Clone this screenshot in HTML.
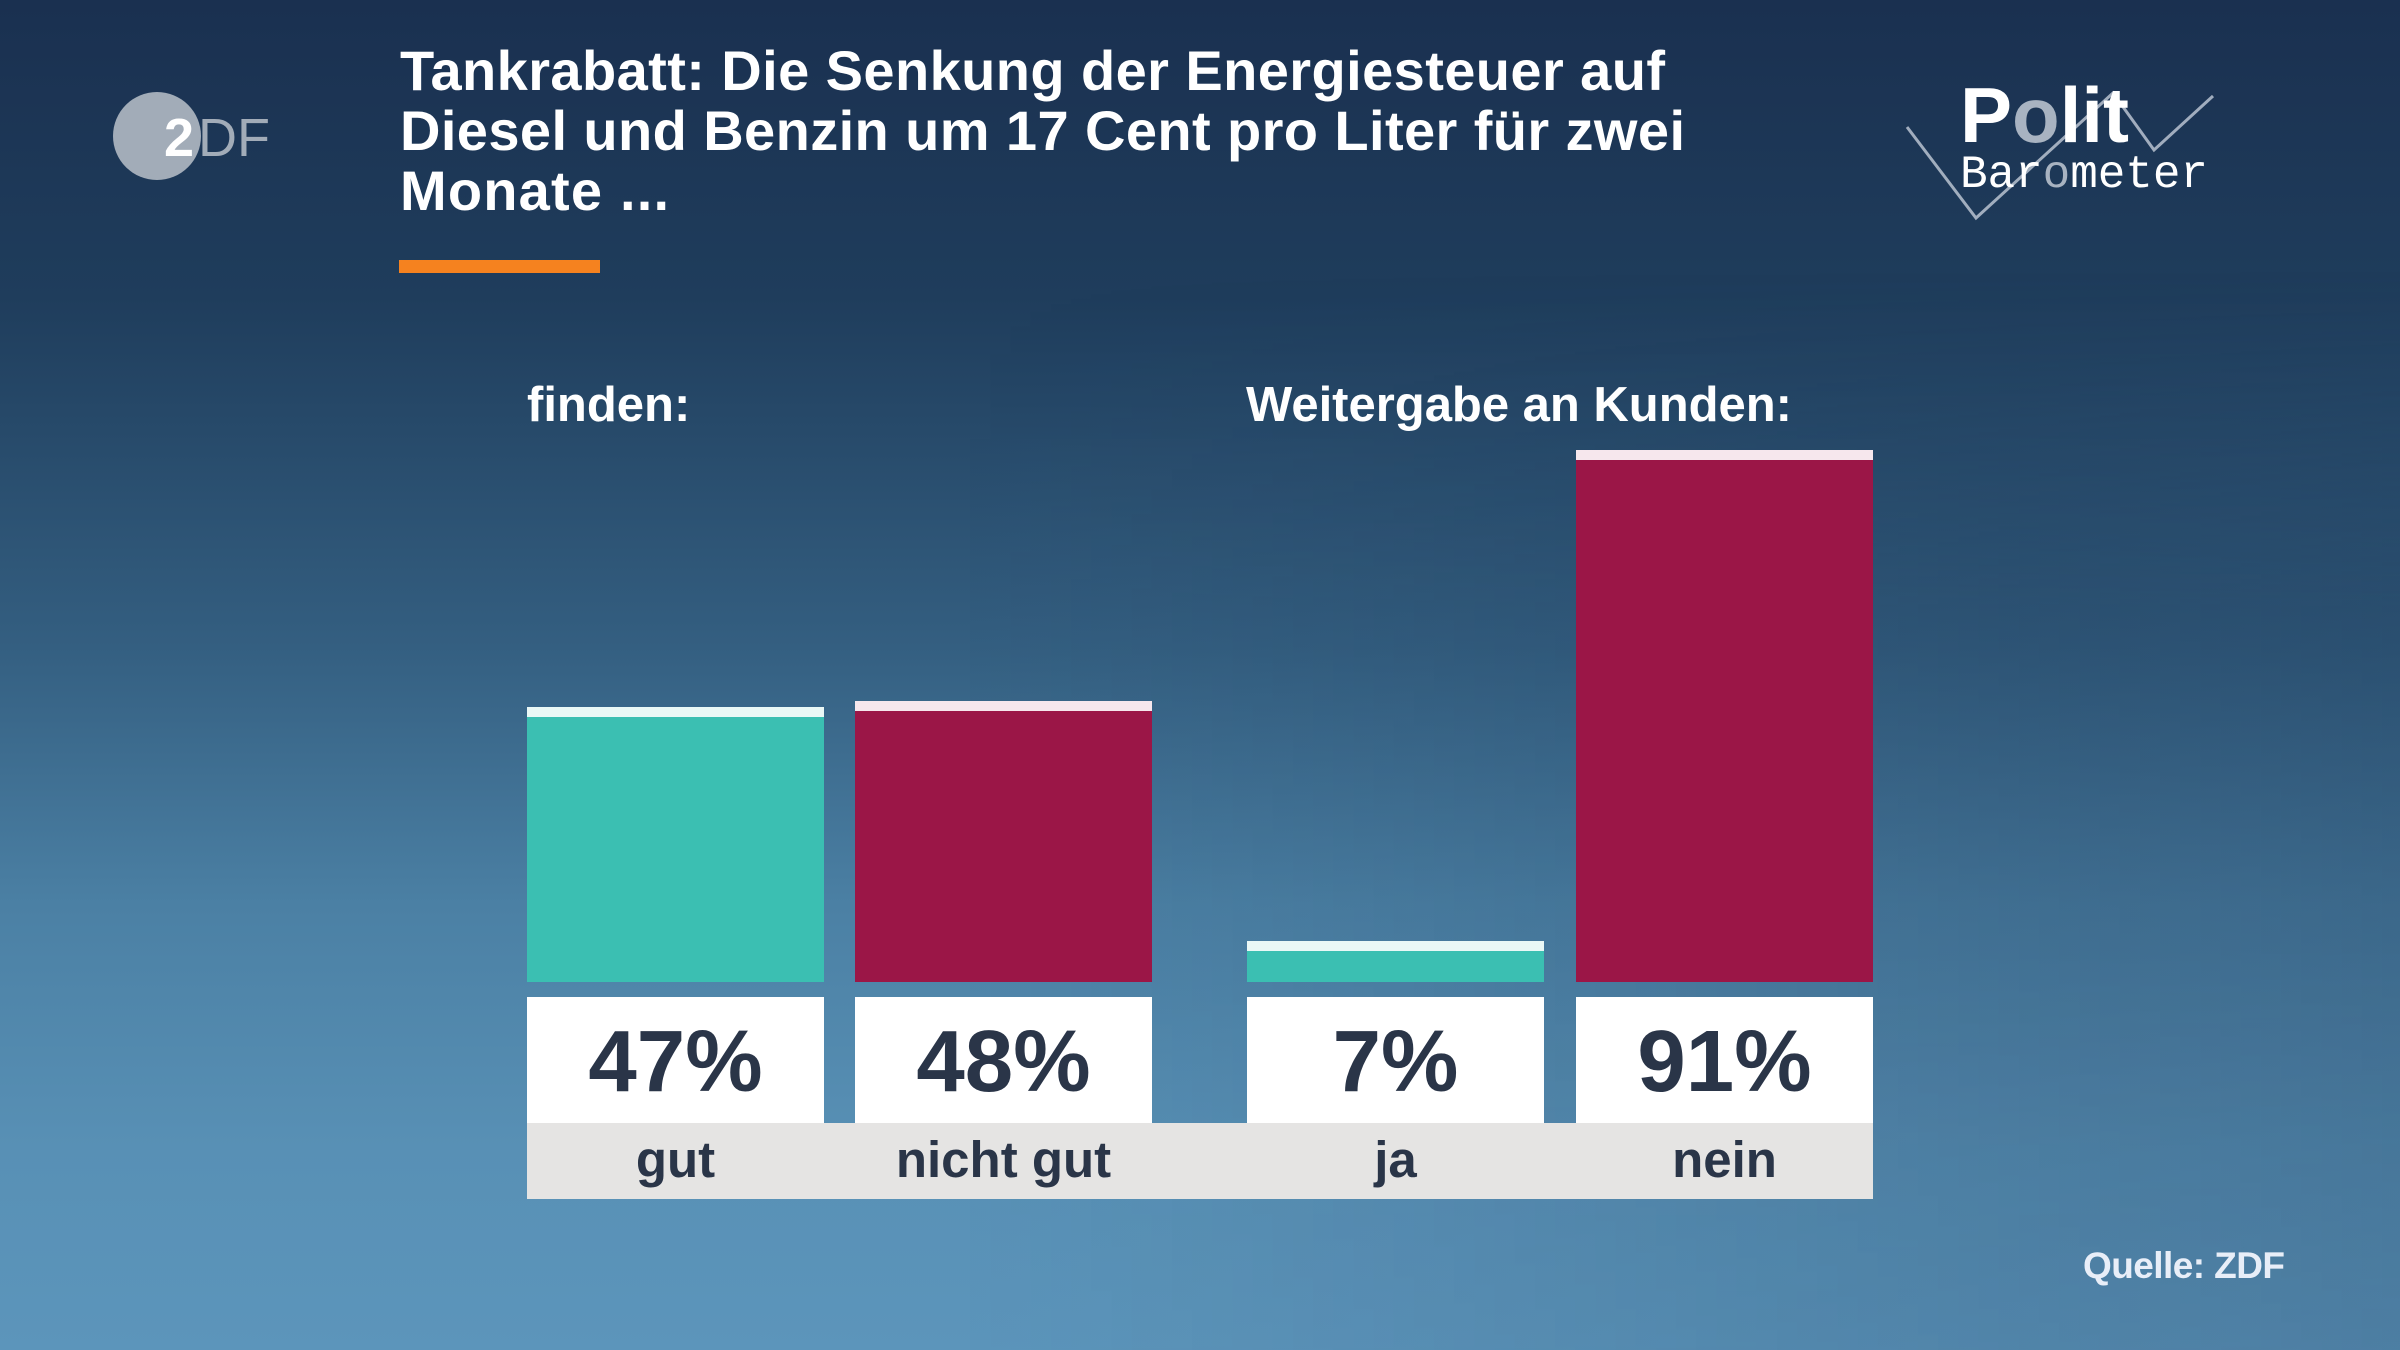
<!DOCTYPE html>
<html>
<head>
<meta charset="utf-8">
<style>
html,body{margin:0;padding:0;width:2400px;height:1350px;overflow:hidden;background:#2a4d70;}
svg{display:block;}
text{font-family:"Liberation Sans",Arial,sans-serif;}
</style>
</head>
<body>
<svg width="2400" height="1350" viewBox="0 0 2400 1350" xmlns="http://www.w3.org/2000/svg">
  <defs>
    <linearGradient id="bgv" x1="0" y1="0" x2="0" y2="1">
      <stop offset="0" stop-color="#1a3050"/>
      <stop offset="0.22" stop-color="#1f3d5c"/>
      <stop offset="0.48" stop-color="#345f81"/>
      <stop offset="0.67" stop-color="#4b80a4"/>
      <stop offset="0.85" stop-color="#5890b5"/>
      <stop offset="1" stop-color="#5c95bb"/>
    </linearGradient>
    <linearGradient id="hdark" x1="0" y1="0" x2="1" y2="0">
      <stop offset="0" stop-color="#142a48" stop-opacity="0"/>
      <stop offset="0.4" stop-color="#142a48" stop-opacity="0"/>
      <stop offset="1" stop-color="#142a48" stop-opacity="0.28"/>
    </linearGradient>
    <linearGradient id="vm" x1="0" y1="0" x2="0" y2="1">
      <stop offset="0.2" stop-color="#fff" stop-opacity="0"/>
      <stop offset="0.45" stop-color="#fff" stop-opacity="1"/>
      <stop offset="0.7" stop-color="#fff" stop-opacity="1"/>
      <stop offset="1" stop-color="#fff" stop-opacity="0.75"/>
    </linearGradient>
    <mask id="m" maskUnits="userSpaceOnUse" x="0" y="0" width="2400" height="1350">
      <rect x="0" y="0" width="2400" height="1350" fill="url(#vm)"/>
    </mask>
  </defs>

  <!-- background -->
  <rect x="0" y="0" width="2400" height="1350" fill="url(#bgv)"/>
  <rect x="0" y="0" width="2400" height="1350" fill="url(#hdark)" mask="url(#m)"/>

  <!-- ZDF logo -->
  <circle cx="157" cy="136" r="44" fill="#a2acb8"/>
  <text x="198" y="156" font-size="54" fill="#a2acb8">DF</text>
  <text x="164" y="156" font-size="54" font-weight="bold" fill="#ffffff">2</text>

  <!-- Title -->
  <text x="400" y="90" font-size="56" font-weight="bold" fill="#ffffff" textLength="1265">Tankrabatt: Die Senkung der Energiesteuer auf</text>
  <text x="400" y="150" font-size="56" font-weight="bold" fill="#ffffff" textLength="1285">Diesel und Benzin um 17 Cent pro Liter für zwei</text>
  <text x="400" y="210" font-size="56" font-weight="bold" fill="#ffffff" textLength="269">Monate ...</text>
  <rect x="399" y="260" width="201" height="13" fill="#f5821f"/>

  <!-- Politbarometer logo -->
  <polyline points="1907,127 1976,218 2113,93 2154,150 2213,96" fill="none" stroke="#c3ccd8" stroke-opacity="0.8" stroke-width="3"/>
  <text x="1960" y="142" font-size="78" font-weight="bold" fill="#ffffff"><tspan>P</tspan><tspan fill="#a8b3c1">o</tspan><tspan>lit</tspan></text>
  <text x="1960" y="187" font-size="46" fill="#ffffff" textLength="248" style="font-family:'Liberation Mono',monospace"><tspan>Bar</tspan><tspan fill="#a8b3c1">o</tspan><tspan>meter</tspan></text>

  <!-- group labels -->
  <text x="527" y="421" font-size="49" font-weight="bold" fill="#ffffff">finden:</text>
  <text x="1246" y="421" font-size="49" font-weight="bold" fill="#ffffff" textLength="546">Weitergabe an Kunden:</text>

  <!-- bars -->
  <rect x="527" y="707" width="297" height="275" fill="#3bbfb2"/>
  <rect x="527" y="707" width="297" height="10" fill="#eaf8f6"/>

  <rect x="855" y="701" width="297" height="281" fill="#9b1647"/>
  <rect x="855" y="701" width="297" height="10" fill="#f6e7ed"/>

  <rect x="1247" y="941" width="297" height="41" fill="#3bbfb2"/>
  <rect x="1247" y="941" width="297" height="10" fill="#eaf8f6"/>

  <rect x="1576" y="450" width="297" height="532" fill="#9b1647"/>
  <rect x="1576" y="450" width="297" height="10" fill="#f6e7ed"/>

  <!-- value boxes -->
  <rect x="527" y="997" width="297" height="126" fill="#ffffff"/>
  <rect x="855" y="997" width="297" height="126" fill="#ffffff"/>
  <rect x="1247" y="997" width="297" height="126" fill="#ffffff"/>
  <rect x="1576" y="997" width="297" height="126" fill="#ffffff"/>

  <text x="675.5" y="1091" font-size="87" font-weight="bold" fill="#2a3548" text-anchor="middle">47%</text>
  <text x="1003.5" y="1091" font-size="87" font-weight="bold" fill="#2a3548" text-anchor="middle">48%</text>
  <text x="1395.5" y="1091" font-size="87" font-weight="bold" fill="#2a3548" text-anchor="middle">7%</text>
  <text x="1724.5" y="1091" font-size="87" font-weight="bold" fill="#2a3548" text-anchor="middle">91%</text>

  <!-- label strip -->
  <rect x="527" y="1123" width="1346" height="76" fill="#e5e4e3"/>
  <text x="675.5" y="1177" font-size="51" font-weight="bold" fill="#2a3548" text-anchor="middle">gut</text>
  <text x="1003.5" y="1177" font-size="51" font-weight="bold" fill="#2a3548" text-anchor="middle">nicht gut</text>
  <text x="1395.5" y="1177" font-size="51" font-weight="bold" fill="#2a3548" text-anchor="middle">ja</text>
  <text x="1724.5" y="1177" font-size="51" font-weight="bold" fill="#2a3548" text-anchor="middle">nein</text>

  <!-- source -->
  <text x="2083" y="1278" font-size="37" font-weight="bold" fill="#e8eef8" textLength="202">Quelle: ZDF</text>
</svg>
</body>
</html>
